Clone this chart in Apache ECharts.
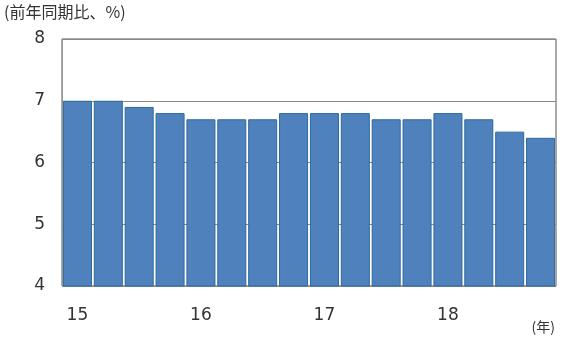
<!DOCTYPE html>
<html><head><meta charset="utf-8">
<script src="https://cdn.jsdelivr.net/npm/echarts@6/dist/echarts.min.js"></script>
<style>html,body{margin:0;padding:0;background:#fff}#c{width:563px;height:342px}</style>
</head><body><div id="c"></div>
<script>
const categories = ['15Q1','15Q2','15Q3','15Q4','16Q1','16Q2','16Q3','16Q4','17Q1','17Q2','17Q3','17Q4','18Q1','18Q2','18Q3','18Q4'];
const tickLabels = ['15','','','','16','','','','17','','','','18','','',''];
const growth = [7.0,7.0,6.9,6.8,6.7,6.7,6.7,6.8,6.8,6.8,6.7,6.7,6.8,6.7,6.5,6.4];
const yTicks = {min:4, max:8, interval:1};
const chart = echarts.init(document.getElementById('c'));
const font = '"Noto Sans CJK JP", "Noto Sans", sans-serif';
const numFont = '"DejaVu Sans", sans-serif';
chart.setOption({
  animation:false,
  textStyle:{fontFamily:font},
  graphic:[
    {type:'text', left:4, top:4, style:{text:'(前年同期比、%)', font:'16px '+font, fill:'#333'}},
    {type:'text', right:8, top:320, style:{text:'(年)', font:'14px '+font, fill:'#333'}}
  ],
  grid:{left:62, right:7, top:39, bottom:56, show:true, borderColor:'#555', borderWidth:1, backgroundColor:'transparent'},
  xAxis:{type:'category', data:categories,
    axisLine:{show:false}, axisTick:{show:false},
    axisLabel:{interval:0, formatter:(v,i)=>tickLabels[i], color:'#333', fontSize:17, fontFamily:numFont, margin:21}},
  yAxis:{type:'value', min:yTicks.min, max:yTicks.max, interval:yTicks.interval,
    axisLine:{show:true, lineStyle:{color:'#999'}}, axisTick:{show:false},
    axisLabel:{color:'#333', fontSize:17, fontFamily:numFont, margin:17},
    splitLine:{lineStyle:{color:'#888'}}},
  series:[{type:'bar', data:growth, barCategoryGap:'6%',
    itemStyle:{color:'#4F81BD', borderColor:'#2C6A9C', borderWidth:1}}]
});
</script></body></html>
